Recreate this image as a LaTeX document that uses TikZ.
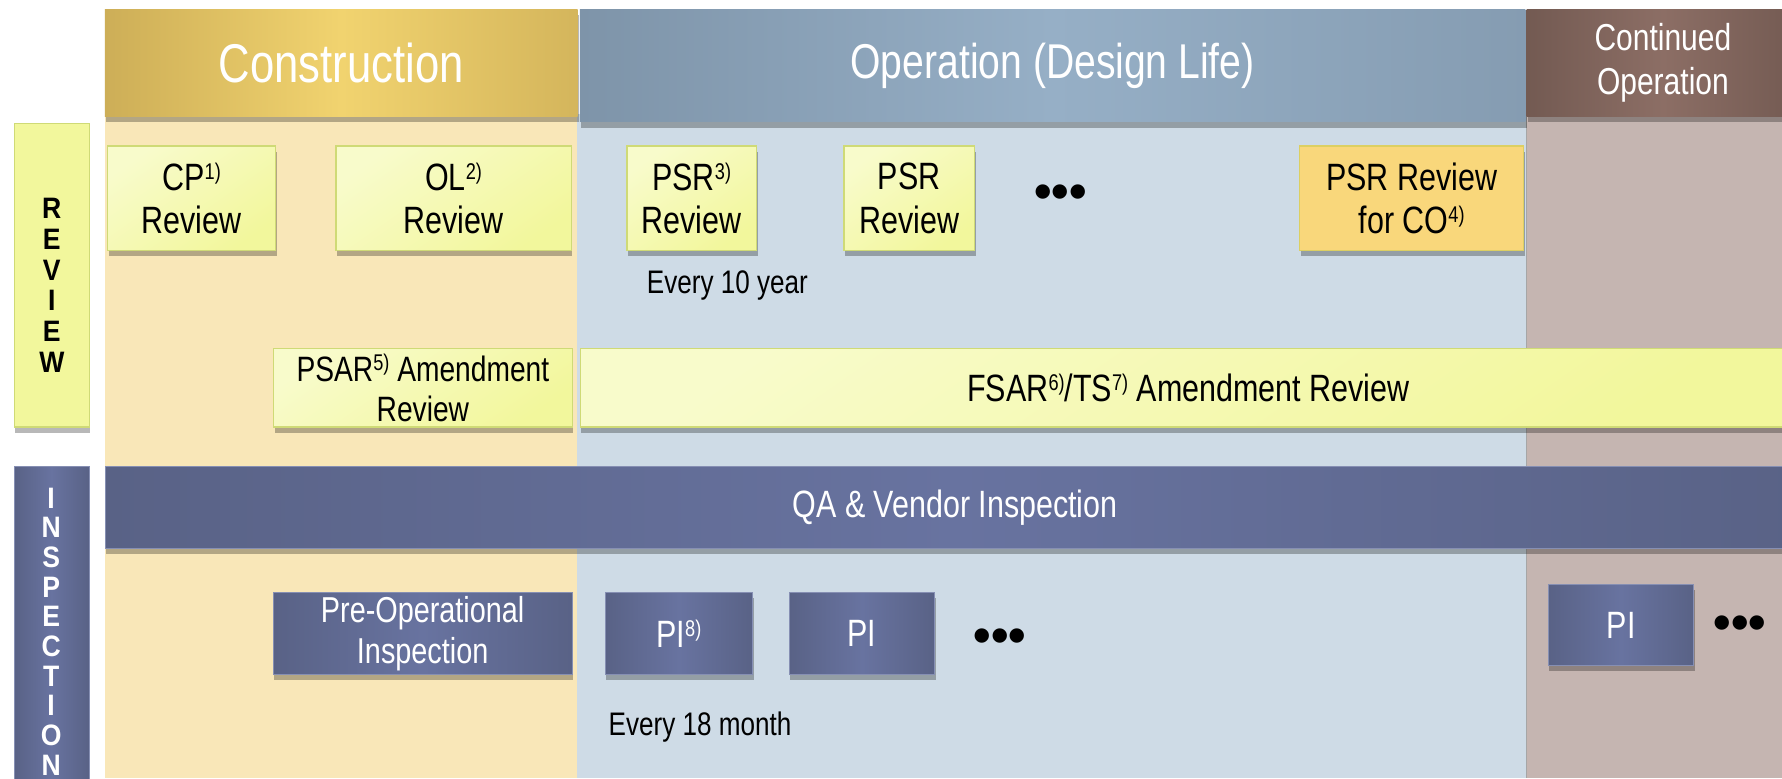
\documentclass[tikz,border=0pt]{standalone}
\usepackage{fontspec}
\setmainfont{Liberation Sans}[FakeStretch=0.8]
\newfontfamily\dotsfont{Liberation Sans}
\newfontfamily\sidefont{Liberation Sans}[FakeStretch=0.9]
\usetikzlibrary{shadows}

% palette
\definecolor{conBg}{HTML}{F9E7B8}
\definecolor{opBg}{HTML}{CEDBE6}
\definecolor{coBg}{HTML}{C5B5B1}
\definecolor{ylFill}{HTML}{F2F79C}
\definecolor{ylLight}{HTML}{F8FBCB}
\definecolor{ylEdge}{HTML}{CFDA76}
\definecolor{orFill}{HTML}{F9D77B}
\definecolor{orEdge}{HTML}{DCCF62}
\definecolor{inFill}{HTML}{6873A0}
\definecolor{inDark}{HTML}{596286}
\definecolor{conA}{HTML}{CDAE57}
\definecolor{conB}{HTML}{F1D36F}
\definecolor{opA}{HTML}{7E94A9}
\definecolor{opB}{HTML}{96AFC6}
\definecolor{coA}{HTML}{735A52}
\definecolor{coB}{HTML}{8C6E65}

% superscript note marks such as 1)
\newcommand\refmark[1]{\raisebox{9.5pt}{\fontsize{20}{20}\selectfont #1}}

\begin{document}
\begin{tikzpicture}[x=1pt,y=-1pt,
  sz/.style 2 args={minimum width=#1, minimum height=#2, anchor=north west, inner sep=0pt},
  shadowed/.style={drop shadow={shadow xshift=1pt, shadow yshift=-5pt, opacity=0.28, fill=black}},
  hdr/.style={shadowed, text=white, align=center},
  ybox/.style={shadowed, draw=ylEdge, line width=1.2pt, top color=ylLight, bottom color=ylFill, shading angle=35,
    font=\fontsize{33.5}{38}\selectfont, align=center},
  obox/.style={shadowed, draw=orEdge, line width=1.2pt, fill=orFill,
    font=\fontsize{33.5}{38}\selectfont, align=center},
  dbox/.style={shadowed, draw=inFill!80!white, line width=0.8pt, left color=inDark, right color=inDark, middle color=inFill,
    text=white, font=\fontsize{33.5}{38}\selectfont, align=center},
  sidelbl/.style={font=\sidefont\bfseries\fontsize{26}{27}\selectfont, align=center, inner sep=0pt},
  note/.style={font=\fontsize{28.7}{33}\selectfont},
  more/.style={font=\dotsfont\bfseries\fontsize{44}{44}\selectfont, inner sep=0pt}
]
\clip (0,0) rectangle (1568,685);
\fill[white] (0,0) rectangle (1568,685);

% phase columns
\fill[conBg] (92,100) rectangle (508,685);
\fill[opBg] (508,100) rectangle (1343,685);
\fill[coBg] (1343,100) rectangle (1568,685);
\draw[black!35, line width=0.6pt] (1343,100) -- (1343,685);

% phase headers
\node[hdr, sz={416}{94}, left color=conA, right color=conA!80!conB, middle color=conB, font=\fontsize{48}{54}\selectfont] (construction) at (92,8) {Construction};
\node[hdr, sz={832}{99}, left color=opA, right color=opA!70!opB, middle color=opB, font=\fontsize{43}{50}\selectfont] (operation) at (510,8) {Operation (Design Life)};
\node[hdr, sz={240}{94}, left color=coA, right color=coA, middle color=coB, font=\fontsize{33}{38}\selectfont] (continued) at (1343,8) {Continued\\Operation};

% row labels
\node[draw=ylEdge, line width=1.2pt, fill=ylFill, shadowed, sz={66}{267}] (review) at (12,108) {};
\node[sidelbl] (reviewlbl) at ([yshift=-9]review.center) {R\\E\\V\\I\\E\\W};
\node[draw=inFill!80!white, line width=0.8pt, left color=inDark, right color=inDark, middle color=inFill, shadowed, sz={66}{300}] (inspection) at (12,410) {};
\node[sidelbl, text=white, anchor=north, font=\sidefont\bfseries\fontsize{26}{26.1}\selectfont] (inspectionlbl) at (45,429) {I\\N\\S\\P\\E\\C\\T\\I\\O\\N};

% review items
\node[ybox, sz={148}{92}] (cp) at (94,128) {CP\refmark{1)}\\Review};
\node[ybox, sz={207}{92}] (ol) at (295,128) {OL\refmark{2)}\\Review};
\node[ybox, sz={114}{92}] (psrA) at (551,128) {PSR\refmark{3)}\\Review};
\node[ybox, sz={115}{92}] (psrB) at (742,128) {PSR\\Review};
\node[more] (psrmore) at (933,173) {•••};
\node[obox, sz={197}{92}] (psrco) at (1143,128) {PSR Review\\for CO\refmark{4)}};
\node[note] (every10) at (640,251) {Every 10 year};
\node[ybox, sz={263}{69}, font=\fontsize{31}{35}\selectfont] (psar) at (240,306) {PSAR\refmark{5)} Amendment\\Review};
\node[ybox, sz={1070}{69}] (fsar) at (510,306) {FSAR\refmark{6)}/TS\refmark{7)} Amendment Review};

% inspection items
\node[dbox, sz={1496}{72}] (qa) at (92,410) {QA \& Vendor Inspection};
\node[dbox, sz={263}{72}, font=\fontsize{31.7}{36}\selectfont] (preop) at (240,521) {Pre-Operational\\Inspection};
\node[dbox, sz={130}{72}] (piA) at (532,521) {PI\refmark{8)}};
\node[dbox, sz={128}{72}] (piB) at (694,521) {PI};
\node[more] (pimore) at (880,564) {•••};
\node[dbox, sz={128}{71}] (pico) at (1362,514) {PI};
\node[more] (picomore) at (1531,552) {•••};
\node[note] (every18) at (616,640) {Every 18 month};
\end{tikzpicture}
\end{document}
